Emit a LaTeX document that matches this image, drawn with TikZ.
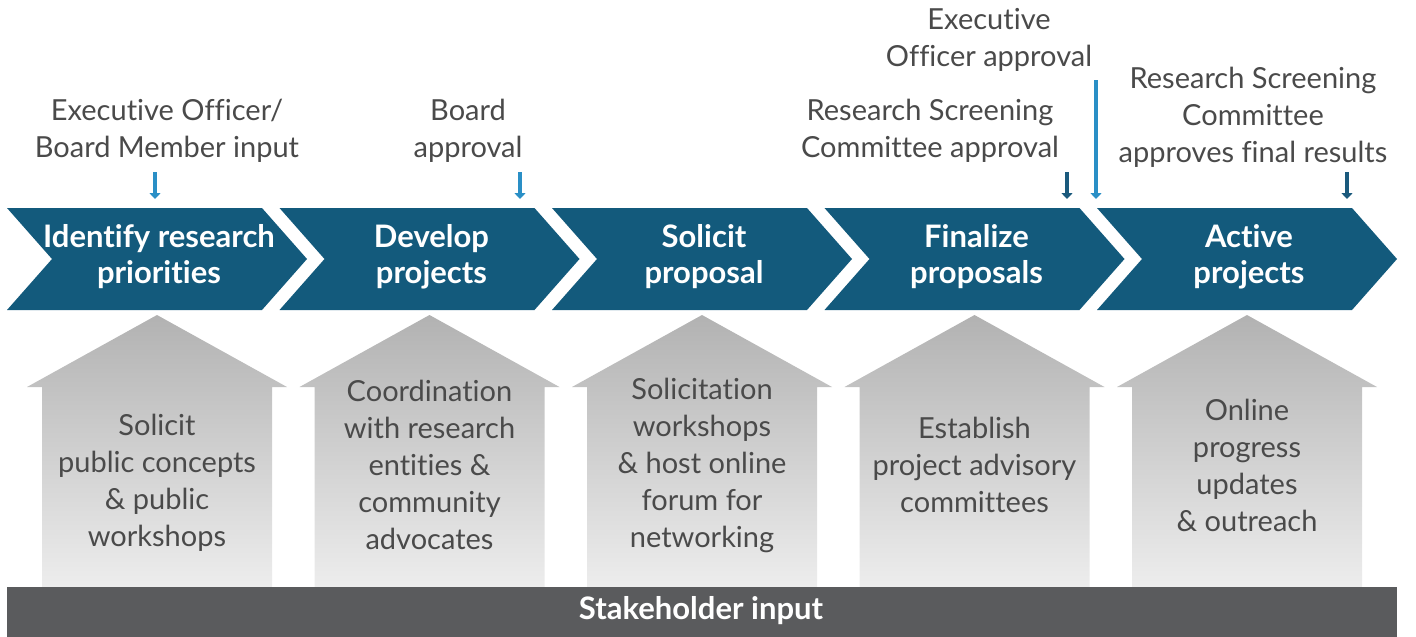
\documentclass[tikz,border=0pt]{standalone}
\usepackage{fontspec}
\setmainfont{Lato}[Ligatures={NoCommon,NoRare}]
\usetikzlibrary{arrows.meta}
\definecolor{chev}{HTML}{135A7C}
\definecolor{lblue}{HTML}{2A8FC6}
\definecolor{dblue}{HTML}{1B5A7D}
\definecolor{txt}{HTML}{4A4A4A}
\definecolor{bar}{HTML}{5A5B5D}
\definecolor{hTop}{HTML}{B2B2B2}
\definecolor{hBot}{HTML}{EDEDED}
\tikzset{
  lbl/.style={text=txt, align=center, font=\fontsize{29}{37}\selectfont, inner sep=0pt},
  chevtxt/.style={text=white, align=center, font=\fontsize{31}{36}\selectfont\bfseries, inner sep=0pt},
  housetxt/.style={text=txt, align=center, font=\fontsize{29}{37}\selectfont, inner sep=0pt},
  lightarrow/.style={draw=lblue, line width=4pt, -{Triangle[width=11pt,length=6pt]}},
  darkarrow/.style={draw=dblue, line width=4pt, -{Triangle[width=11pt,length=6pt]}},
}
\begin{document}
\begin{tikzpicture}[x=1pt,y=-1pt]
\useasboundingbox (0,0) rectangle (1416,637);
% chevrons and houses
\foreach \i/\t/\h/\hy in {0/{Identify research\\priorities}/{Solicit\\public concepts\\\& public\\workshops}/483,
  1/{Develop\\projects}/{Coordination\\with research\\entities \&\\community\\advocates}/465,
  2/{Solicit\\proposal}/{Solicitation\\workshops\\\& host online\\forum for\\networking}/465,
  3/{Finalize\\proposals}/{Establish\\project advisory\\committees}/465,
  4/{Active\\projects}/{Online\\progress\\updates\\\& outreach}/465}{
  \pgfmathsetmacro{\xo}{7+272.5*\i}
  \fill[chev] (\xo,208) -- ++(255,0) -- ++(45,51) -- ++(-45,51) -- ++(-255,0) -- ++(45,-51) -- cycle;
  \node[chevtxt] (c\i) at (\xo+152,257) {\t};
  \shade[top color=hTop, bottom color=hBot] (\xo+150,315) -- (\xo+280,387) -- (\xo+265,387) -- (\xo+265,587) -- (\xo+35,587) -- (\xo+35,387) -- (\xo+20,387) -- cycle;
  \node[housetxt] (h\i) at (\xo+150,\hy) {\h};
}
% bar
\fill[bar] (7,587) rectangle (1397,637);
\node[chevtxt, font=\fontsize{31}{34}\selectfont\bfseries] (stake) at (701,611) {Stakeholder input};
% top labels
\node[lbl] (l1) at (167,131) {Executive Officer/\\Board Member input};
\node[lbl] (l2) at (468,131) {Board\\approval};
\node[lbl] (l3) at (930,131) {Research Screening\\Committee approval};
\node[lbl] (l4) at (989,40) {Executive\\Officer approval};
\node[lbl] (l5) at (1253,117) {Research Screening\\Committee\\approves final results};
% arrow endpoints
\coordinate (a1s) at (155,172); \coordinate (a1e) at (155,199);
\coordinate (a2s) at (520,172); \coordinate (a2e) at (520,199);
\coordinate (a3s) at (1067,172); \coordinate (a3e) at (1067,199);
\coordinate (a4s) at (1096,80); \coordinate (a4e) at (1096,199);
\coordinate (a5s) at (1347,172); \coordinate (a5e) at (1347,199);
\draw[lightarrow] (a1s) -- (a1e);
\draw[lightarrow] (a2s) -- (a2e);
\draw[darkarrow] (a3s) -- (a3e);
\draw[lightarrow] (a4s) -- (a4e);
\draw[darkarrow] (a5s) -- (a5e);
\end{tikzpicture}
\end{document}
